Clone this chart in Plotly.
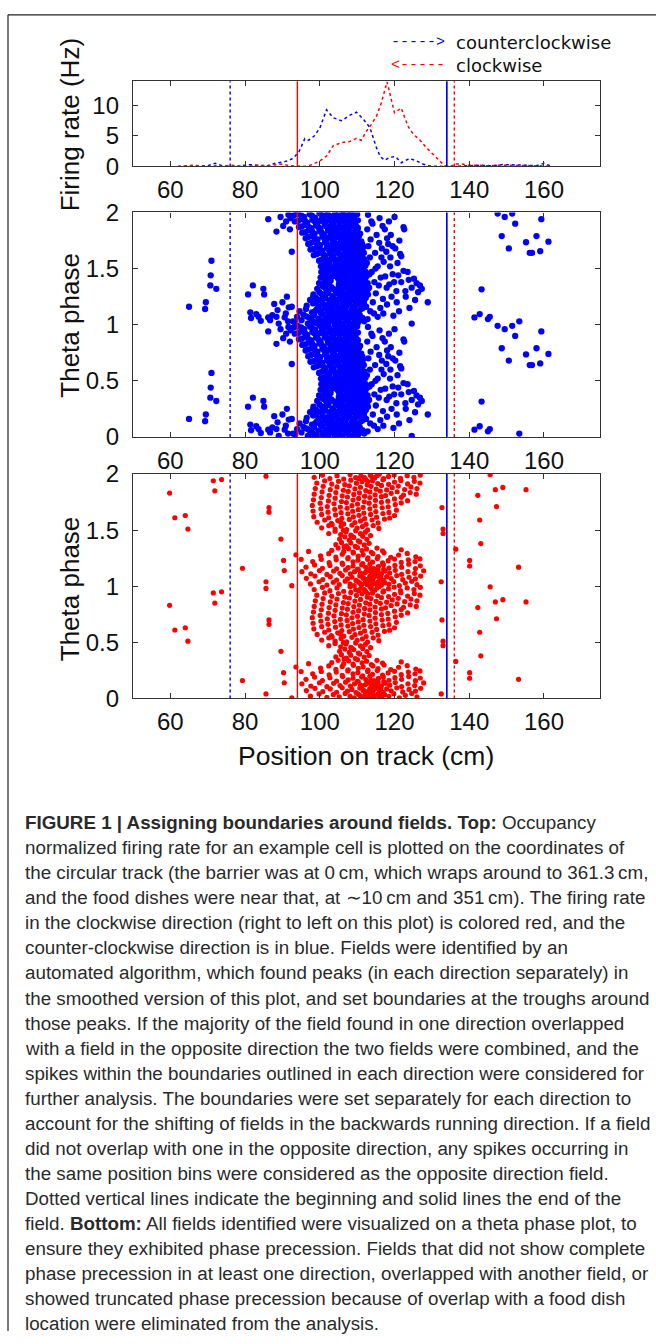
import plotly.graph_objects as go

# ------------------------------------------------------------------ data
ccw_rate_x = [62, 65, 68, 70, 72, 74, 76, 78, 80, 82, 84, 86, 88, 90, 91.5, 93, 94.5, 96, 97, 98.5,
              100, 101.8, 103.6, 105.8, 108, 109.8, 111.6, 113.4, 115.2, 116.2, 117.4, 118.7, 120.3,
              121.8, 124, 125.9, 127.6, 129.4, 131, 133, 135, 137, 140, 143, 146, 149, 152, 155, 158,
              160, 162]
ccw_rate_hz = [0, 0, 0, 0.1, 0.5, 0.1, 0, 0, 0.2, 0.3, 0.1, 0.1, 0.5, 0.7, 0.9, 1.4, 2.5, 4.6, 4.3, 5.0,
               6.3, 9.3, 8.0, 7.5, 8.4, 8.9, 7.8, 6.4, 3.0, 1.6, 1.0, 1.5, 1.6,
               0.6, 1.3, 0.9, 0.4, 0.05, 0, 0, 0, 0, 0.1, 0.2, 0.1, 0.3, 0.3, 0.2, 0.1,
               0.5, 0]
cw_rate_x = [62, 64, 66, 68, 70, 72, 74, 76, 78, 80, 82, 84, 86, 88, 90, 92, 94, 96, 98, 100, 101.8,
             103.6, 105.8, 108, 109.8, 111.1, 112.5, 113.8, 115.2, 116.5, 118, 119.2, 120, 121.8, 123.6,
             125, 126.7, 128.5, 130.3, 132.1, 133.4, 135, 136.5, 138, 140, 142, 145, 148, 150, 153,
             156, 159, 162]
cw_rate_hz = [0, 0.1, 0.2, 0.1, 0, 0.1, 0, 0.2, 0.1, 0, 0.1, 0.2, 0.1, 0.2, 0.4, 0.1, 0, 0, 0.3, 0.9, 1.7,
              3.4, 3.9, 4.1, 4.6, 4.3, 5.8, 6.9, 8.3, 10.5, 13.9, 11.0, 8.8, 9.6, 6.6,
              5.3, 4.4, 3.1, 2.0, 0.9, 0.1, 0, 0.4, 0.4, 0.2, 0.2, 0.1, 0.2, 0.2, 0.1,
              0.1, 0.1, 0]

ccw_field_start = 76
ccw_field_end = 134
cw_field_start = 136
cw_field_end = 94

x_ticks = [60, 80, 100, 120, 140, 160]
rate_ticks = [0, 5, 10]
phase_ticks = [0, 0.5, 1, 1.5, 2]
phase_tick_labels = ["0", "0.5", "1", "1.5", "2"]

# spikes: (position cm, theta phase in cycles) for one cycle; each spike is drawn at phase and phase+1
ccw_spikes = [
    (65.0, .16), (69.3, .14), (69.5, .20), (70.7, .35), (70.8, .44), (71.0, .57), (72.3, .32),
    (80.8, .27), (82.1, .35), (84.9, .32), (85.1, .27), (81.4, .11), (81.6, .06), (83.0, .095),
    (83.6, .07), (84.2, .035), (86.2, .065), (86.7, .04), (87.3, .085), (88.4, .07), (88.7, .13),
    (87.8, .185), (86.2, .94), (88.4, .83), (90.6, .065), (90.9, .10), (91.7, .155), (92.5, .16),
    (91.5, .03), (92.8, .03), (91.6, .98), (92.2, .95), (92.5, .65), (90.2, .88), (91.0, .92),
    (89.5, .96), (90.0, .20), (91.2, .25), (92.0, .85), (89.0, .01),
    (93.4, .02), (95.1, .04), (96.8, .01), (98.0, .035), (99.2, .012), (100.1, .045), (101.0, .02),
    (102.3, .005), (103.1, .038), (104.0, .015), (105.2, .03), (106.1, .008), (106.9, .042),
    (107.8, .022), (108.6, .003), (109.4, .034), (110.2, .018), (101.7, .03), (104.6, .045), (97.5, .005),
    (93.9, .07), (95.6, .09), (97.2, .06), (98.5, .085), (99.6, .055), (100.7, .095), (101.6, .068),
    (102.7, .08), (103.5, .052), (104.4, .09), (105.6, .065), (106.5, .098), (107.3, .058), (108.2, .078),
    (109.0, .092), (109.9, .062), (110.7, .085), (103.0, .10), (106.0, .075),
    (94.6, .12), (96.3, .14), (97.9, .11), (99.1, .135), (100.3, .105), (101.2, .145), (102.1, .118),
    (103.3, .13), (104.2, .102), (105.0, .14), (105.9, .115), (106.8, .148), (107.7, .108), (108.5, .128),
    (109.3, .142), (110.1, .112), (110.9, .135), (104.8, .125),
    (96.5, .17), (98.2, .19), (99.6, .16), (100.8, .185), (101.8, .155), (102.8, .195), (103.7, .168),
    (104.6, .182), (105.5, .152), (106.3, .19), (107.2, .165), (108.0, .198), (108.9, .158), (109.7, .178),
    (110.5, .192), (111.3, .162), (102.2, .175), (106.8, .178),
    (97.4, .22), (99.0, .24), (100.5, .21), (101.6, .235), (102.6, .205), (103.6, .245), (104.5, .218),
    (105.4, .232), (106.2, .202), (107.1, .24), (107.9, .215), (108.7, .248), (109.5, .208), (110.3, .228),
    (111.1, .242), (111.8, .212), (105.0, .225),
    (98.3, .27), (99.9, .29), (101.2, .26), (102.3, .285), (103.4, .255), (104.3, .295), (105.2, .268),
    (106.0, .282), (106.8, .252), (107.6, .29), (108.4, .265), (109.2, .298), (110.0, .258), (110.8, .278),
    (111.6, .292), (112.2, .262),
    (99.3, .32), (100.8, .34), (102.0, .31), (103.1, .335), (104.2, .305), (105.1, .345), (106.0, .318),
    (106.9, .332), (107.7, .302), (108.5, .34), (109.3, .315), (110.1, .348), (110.9, .308), (111.7, .328),
    (112.4, .342),
    (99.8, .37), (101.3, .39), (102.4, .36), (105.6, .385), (106.5, .355), (107.3, .395), (108.1, .368),
    (108.9, .382), (109.7, .352), (110.5, .39), (111.3, .365), (112.1, .398), (102.9, .392), (106.9, .372),
    (110.0, .375),
    (100.2, .42), (101.6, .44), (102.8, .41), (103.9, .435), (105.0, .405), (106.0, .445), (106.9, .418),
    (107.7, .432), (108.5, .402), (109.3, .44), (110.1, .415), (110.9, .448), (111.7, .408), (112.4, .428),
    (104.6, .425),
    (100.4, .47), (101.9, .49), (103.1, .46), (104.2, .485), (105.3, .455), (106.2, .495), (107.1, .468),
    (107.9, .482), (108.7, .452), (109.5, .49), (110.3, .465), (111.1, .498), (111.8, .458), (106.6, .475),
    (109.0, .472),
    (100.3, .52), (101.8, .54), (103.0, .51), (104.1, .535), (105.2, .505), (106.1, .545), (107.0, .518),
    (107.8, .532), (108.6, .502), (109.4, .54), (110.2, .515), (111.0, .548), (111.7, .508), (105.6, .528),
    (109.0, .525),
    (99.8, .57), (101.3, .59), (102.6, .56), (103.7, .585), (104.8, .555), (105.8, .595), (106.7, .568),
    (107.5, .582), (108.3, .552), (109.1, .59), (109.9, .565), (110.7, .598), (111.5, .558), (104.2, .575),
    (108.7, .572),
    (98.4, .62), (100.0, .64), (101.4, .61), (102.6, .635), (103.7, .605), (104.7, .645), (105.6, .618),
    (106.5, .632), (107.3, .602), (108.1, .64), (108.9, .615), (109.7, .648), (110.5, .608), (111.3, .628),
    (106.9, .625),
    (97.5, .67), (99.2, .69), (100.7, .66), (101.9, .685), (103.0, .655), (104.0, .695), (105.0, .668),
    (105.9, .682), (106.8, .652), (107.6, .69), (108.4, .665), (109.2, .698), (110.0, .658), (110.8, .678),
    (111.6, .692), (103.5, .675),
    (96.9, .72), (98.6, .74), (100.1, .71), (101.4, .735), (102.5, .705), (103.5, .745), (104.5, .718),
    (105.4, .732), (106.3, .702), (107.1, .74), (107.9, .715), (108.7, .748), (109.5, .708), (110.3, .728),
    (111.1, .742), (104.0, .728),
    (96.2, .77), (97.9, .79), (99.4, .76), (100.7, .785), (101.8, .755), (102.9, .795), (103.9, .768),
    (104.8, .782), (105.7, .752), (106.5, .79), (107.3, .765), (108.1, .798), (108.9, .758), (109.7, .778),
    (110.5, .792), (102.3, .775),
    (95.3, .82), (97.0, .84), (98.6, .81), (99.9, .835), (101.1, .805), (102.2, .845), (103.2, .818),
    (104.2, .832), (105.1, .802), (106.0, .84), (106.8, .815), (107.6, .848), (108.4, .808), (109.2, .828),
    (110.0, .842), (110.8, .812), (103.7, .826),
    (94.4, .87), (96.1, .89), (97.7, .86), (99.0, .885), (100.2, .855), (101.3, .895), (102.4, .868),
    (103.4, .882), (104.4, .852), (105.3, .89), (106.2, .865), (107.0, .898), (107.8, .858), (108.6, .878),
    (109.4, .892), (110.2, .862), (101.8, .876),
    (93.3, .92), (95.0, .94), (96.6, .91), (98.0, .935), (99.3, .905), (100.5, .945), (101.6, .918),
    (102.6, .932), (103.6, .902), (104.5, .94), (105.4, .915), (106.3, .948), (107.1, .908), (107.9, .928),
    (108.7, .942), (109.5, .912), (100.0, .925), (104.0, .925),
    (92.4, .97), (94.1, .99), (95.8, .96), (97.3, .985), (98.7, .955), (99.9, .995), (101.0, .968),
    (102.1, .982), (103.1, .952), (104.1, .99), (105.0, .965), (105.9, .998), (106.8, .958), (107.6, .978),
    (108.4, .992), (109.2, .962), (110.0, .985), (101.6, .975),
    (104.9, .011), (107.4, .031), (109.8, .047), (111.0, .04), (100.6, .025), (98.6, .02),
    (102.2, .058), (105.0, .082), (108.6, .067), (110.3, .098), (111.4, .06), (96.4, .075),
    (100.0, .125), (102.7, .138), (106.3, .107), (108.9, .118), (111.5, .148), (98.7, .118),
    (101.3, .172), (104.1, .193), (107.6, .183), (109.3, .166), (111.8, .185), (99.0, .198),
    (100.0, .222), (103.1, .227), (106.6, .235), (109.1, .223), (112.3, .238), (98.2, .246),
    (101.7, .278), (104.8, .282), (107.2, .272), (109.6, .284), (112.6, .28), (100.5, .273),
    (101.6, .322), (103.6, .318), (105.5, .33), (108.1, .325), (110.5, .335), (112.8, .315),
    (100.6, .36), (101.8, .378), (105.1, .362), (107.7, .388), (109.3, .365), (111.7, .382), (112.8, .37),
    (101.0, .43), (102.2, .425), (105.5, .43), (107.3, .41), (109.7, .427), (111.3, .435), (112.8, .445),
    (101.2, .48), (102.5, .475), (104.7, .47), (107.5, .46), (108.3, .492), (110.7, .478), (112.3, .47),
    (101.0, .53), (102.4, .525), (104.6, .52), (106.5, .51), (108.2, .538), (110.6, .53), (112.2, .525),
    (100.5, .58), (102.0, .578), (103.2, .598), (105.3, .582), (107.1, .555), (109.5, .577), (111.9, .585),
    (99.2, .63), (101.0, .625), (103.2, .63), (105.2, .63), (107.7, .618), (110.1, .625), (111.8, .64),
    (98.3, .675), (100.0, .672), (102.4, .67), (104.5, .68), (107.2, .672), (109.6, .678), (111.4, .665),
    (97.7, .73), (99.3, .725), (101.9, .72), (104.9, .71), (106.7, .725), (109.1, .722), (111.4, .715),
    (96.9, .78), (98.6, .772), (101.2, .77), (103.4, .785), (106.0, .772), (107.7, .782), (110.1, .765),
    (96.1, .825), (98.0, .83), (100.5, .82), (102.7, .83), (105.6, .82), (107.2, .83), (109.7, .81),
    (95.2, .875), (97.0, .872), (99.6, .87), (102.9, .875), (104.9, .87), (107.4, .88), (109.8, .875),
    (94.2, .925), (96.0, .928), (98.6, .922), (101.1, .93), (103.1, .918), (105.8, .928), (108.3, .92),
    (110.2, .93), (93.2, .978), (95.0, .975), (97.9, .972), (100.4, .98), (102.6, .97), (104.6, .975),
    (106.4, .985), (108.8, .975),
    (112.8, .05), (113.5, .12), (114.2, .20), (115.0, .28), (113.2, .33), (114.6, .38), (116.3, .42),
    (113.9, .47), (115.5, .52), (117.1, .56), (113.4, .60), (114.8, .64), (116.6, .68), (118.3, .72),
    (113.6, .76), (115.2, .80), (117.4, .85), (114.1, .90), (116.0, .95), (112.9, .98),
    (118.0, .18), (119.2, .25), (120.5, .30), (118.6, .36), (121.8, .38), (119.5, .45), (122.4, .48),
    (120.8, .55), (118.9, .60), (121.5, .63), (123.5, .47), (125.2, .41), (126.3, .29), (124.6, .33),
    (126.8, .35), (125.5, .22), (127.3, .32), (128.9, .20), (124.6, .01), (122.6, .85), (122.4, .87),
    (119.0, .80), (118.0, .77), (120.2, .68), (121.8, .61), (117.0, .10), (116.2, .15), (123.0, .25),
    (124.0, .15), (119.7, .08), (121.2, .12), (118.5, .92), (120.0, .96), (117.9, .33), (116.9, .23),
    (115.5, .07),
    (111.9, .03), (112.4, .16), (112.9, .27), (113.3, .45), (112.6, .55), (113.0, .70), (112.7, .85),
    (113.8, .92), (114.5, .10), (115.8, .35), (116.5, .60), (115.9, .73), (114.9, .50), (117.5, .43),
    (118.8, .52), (119.9, .38), (121.0, .44), (122.9, .30), (120.6, .20), (117.8, .65), (119.5, .70),
    (116.8, .88), (121.3, .75), (123.8, .40), (125.9, .37),
    (141.4, .065), (142.8, .095), (143.3, .315), (145.0, .05), (145.5, .07), (147.6, .99), (148.7, .79),
    (149.5, .96), (150.6, .68), (151.5, .99), (152.3, .90), (153.4, .03), (155.2, .735), (156.2, .64),
    (156.8, .64), (158.0, .79), (159.0, .655), (159.3, .94), (161.2, .74),
]

cw_spikes = [
    (59.8, .83), (61.2, .61), (64.0, .63), (64.7, .51), (71.5, .94), (71.9, .85), (73.7, .95),
    (79.3, .16), (85.6, .04), (85.6, .98), (86.4, .70), (86.4, .66), (89.6, .42), (90.3, .23),
    (90.5, .14), (92.5, .005), (93.6, .28), (95.0, .24), (132.7, .70), (133.0, .51), (133.0, .47),
    (132.5, .04), (136.4, .33), (140.1, .23), (140.1, .18), (142.3, .81), (142.8, .59), (143.1, .38),
    (145.6, .995), (147.0, .86), (147.3, .71), (149.0, .88), (153.2, .17), (155.2, .86),
    (97.5, .02), (99.8, .04), (101.9, .01), (103.6, .035), (105.2, .015), (106.8, .045), (108.1, .02),
    (109.2, .005), (110.3, .038), (111.2, .012), (112.1, .03), (113.0, .045), (113.8, .008), (114.7, .025),
    (115.6, .04), (116.5, .01), (117.4, .032), (118.5, .018), (119.8, .042), (121.3, .006), (122.9, .028),
    (124.6, .044), (126.0, .014),
    (96.4, .07), (98.7, .09), (100.8, .06), (102.8, .085), (104.5, .055), (106.0, .095), (107.4, .065),
    (108.6, .08), (109.7, .052), (110.7, .092), (111.6, .07), (112.5, .058), (113.4, .088), (114.2, .062),
    (115.1, .098), (116.0, .075), (116.9, .055), (117.9, .085), (119.1, .068), (120.6, .095), (122.2, .058),
    (123.9, .08), (125.6, .066), (127.0, .09),
    (95.2, .13), (97.6, .11), (99.9, .14), (101.9, .105), (103.7, .135), (105.4, .115), (106.9, .145),
    (108.2, .11), (109.3, .13), (110.3, .148), (111.2, .102), (112.1, .122), (113.0, .14), (113.8, .108),
    (114.7, .128), (115.6, .145), (116.5, .112), (117.5, .135), (118.7, .118), (120.2, .142), (121.9, .106),
    (123.6, .13), (125.4, .115), (127.8, .138),
    (96.3, .17), (98.6, .19), (100.7, .16), (102.7, .185), (104.5, .155), (106.1, .195), (107.6, .165),
    (108.9, .18), (110.1, .152), (111.2, .19), (112.3, .168), (113.4, .198), (114.5, .158), (115.7, .178),
    (117.0, .192), (118.5, .162), (120.1, .185), (121.9, .17), (123.8, .196), (125.6, .158), (126.9, .182),
    (98.1, .22), (100.4, .24), (102.5, .21), (104.4, .235), (106.0, .205), (107.5, .245), (108.9, .218),
    (110.2, .232), (111.5, .202), (112.8, .24), (114.1, .215), (115.4, .248), (116.8, .208), (118.3, .228),
    (120.0, .242), (121.8, .212), (123.7, .235), (125.5, .22), (126.8, .245),
    (100.2, .27), (102.4, .29), (104.3, .26), (106.0, .285), (107.6, .255), (109.0, .295), (110.3, .268),
    (111.6, .282), (112.9, .252), (114.2, .29), (115.6, .265), (117.2, .298), (119.0, .258), (121.1, .278),
    (123.4, .292), (125.7, .262),
    (103.2, .32), (104.9, .34), (106.4, .31), (107.7, .335), (108.9, .305), (110.1, .345), (111.3, .318),
    (112.5, .332), (113.8, .302), (115.3, .34), (116.8, .315), (121.8, .325), (97.0, .31),
    (104.3, .37), (105.8, .39), (107.1, .36), (108.3, .385), (109.5, .355), (110.7, .395), (111.9, .368),
    (113.2, .382), (106.5, .352),
    (105.3, .42), (106.7, .44), (107.9, .41), (109.1, .435), (110.3, .405), (111.5, .445), (112.6, .418),
    (108.5, .448),
    (102.4, .47), (104.1, .49), (105.6, .46), (107.0, .485), (108.3, .455), (109.6, .495), (110.9, .468),
    (112.2, .482), (113.6, .452), (106.3, .498),
    (100.5, .52), (102.4, .54), (104.1, .51), (105.7, .535), (107.2, .505), (108.6, .545), (110.0, .518),
    (111.4, .532), (112.8, .502), (114.3, .54), (115.8, .515), (103.3, .548),
    (99.3, .57), (101.3, .59), (103.1, .56), (104.8, .585), (106.4, .555), (107.9, .595), (109.4, .568),
    (110.9, .582), (112.4, .552), (114.0, .59), (115.6, .565), (117.3, .598), (105.5, .575),
    (98.4, .62), (100.5, .64), (102.4, .61), (104.2, .635), (105.9, .605), (107.5, .645), (109.0, .618),
    (110.5, .632), (112.0, .602), (113.6, .64), (115.2, .615), (116.9, .648), (118.7, .608), (120.0, .63),
    (98.2, .67), (100.3, .69), (102.2, .66), (104.0, .685), (105.7, .655), (107.3, .695), (108.8, .668),
    (110.3, .682), (111.8, .652), (113.4, .69), (115.0, .665), (116.7, .698), (118.5, .658), (120.5, .678),
    (98.0, .72), (100.1, .74), (102.0, .71), (103.8, .735), (105.5, .705), (107.1, .745), (108.6, .718),
    (110.1, .732), (111.6, .702), (113.2, .74), (114.8, .715), (116.5, .748), (118.3, .708), (120.2, .728),
    (121.8, .742),
    (98.3, .77), (100.4, .79), (102.3, .76), (104.1, .785), (105.8, .755), (107.4, .795), (108.9, .768),
    (110.4, .782), (111.9, .752), (113.4, .79), (114.9, .765), (116.5, .798), (118.2, .758), (120.0, .778),
    (121.8, .792), (123.5, .762),
    (98.5, .82), (100.6, .84), (102.5, .81), (104.3, .835), (106.0, .805), (107.6, .845), (109.1, .818),
    (110.6, .832), (112.0, .802), (113.4, .84), (114.8, .815), (116.2, .848), (117.6, .808), (119.1, .828),
    (120.7, .842), (122.4, .812), (124.2, .835), (125.8, .82),
    (98.8, .87), (100.9, .89), (102.8, .86), (104.6, .885), (106.3, .855), (107.9, .895), (109.4, .868),
    (110.9, .882), (112.3, .852), (113.7, .89), (115.1, .865), (116.5, .898), (117.9, .858), (119.4, .878),
    (121.0, .892), (122.7, .862), (124.4, .885), (126.0, .87),
    (99.2, .92), (101.3, .94), (103.2, .91), (105.0, .935), (106.7, .905), (108.3, .945), (109.8, .918),
    (111.3, .932), (112.7, .902), (114.1, .94), (115.5, .915), (116.9, .948), (118.4, .908), (120.0, .928),
    (121.7, .942), (123.5, .912), (125.3, .935), (126.8, .92),
    (98.5, .97), (100.7, .99), (102.7, .96), (104.6, .985), (106.4, .955), (108.1, .995), (109.6, .968),
    (111.0, .982), (112.3, .952), (113.5, .99), (114.7, .965), (115.9, .998), (117.1, .958), (118.4, .978),
    (119.9, .992), (121.6, .962), (123.4, .985), (125.2, .97), (126.9, .99),
    (110.8, .025), (112.6, .015), (114.2, .04), (115.9, .022), (117.0, .048), (111.7, .075), (113.1, .065),
    (114.6, .082), (116.3, .09), (110.9, .118), (112.6, .135), (114.1, .128), (115.2, .11), (117.1, .15),
    (113.6, .162), (111.9, .97), (113.9, .975), (115.3, .985), (112.8, .935), (110.4, .96),
]

caption_lines = [
    "<b>FIGURE 1 | Assigning boundaries around fields. Top:</b> Occupancy",
    "normalized firing rate for an example cell is plotted on the coordinates of",
    "the circular track (the barrier was at 0\u2009cm, which wraps around to 361.3\u2009cm,",
    "and the food dishes were near that, at \u223c10\u2009cm and 351\u2009cm). The firing rate",
    "in the clockwise direction (right to left on this plot) is colored red, and the",
    "counter-clockwise direction is in blue. Fields were identified by an",
    "automated algorithm, which found peaks (in each direction separately) in",
    "the smoothed version of this plot, and set boundaries at the troughs around",
    "those peaks. If the majority of the field found in one direction overlapped",
    "with a field in the opposite direction the two fields were combined, and the",
    "spikes within the boundaries outlined in each direction were considered for",
    "further analysis. The boundaries were set separately for each direction to",
    "account for the shifting of fields in the backwards running direction. If a field",
    "did not overlap with one in the opposite direction, any spikes occurring in",
    "the same position bins were considered as the opposite direction field.",
    "Dotted vertical lines indicate the beginning and solid lines the end of the",
    "field. <b>Bottom:</b> All fields identified were visualized on a theta phase plot, to",
    "ensure they exhibited phase precession. Fields that did not show complete",
    "phase precession in at least one direction, overlapped with another field, or",
    "showed truncated phase precession because of overlap with a food dish",
    "location were eliminated from the analysis.",
]

# ------------------------------------------------------------------ layout helpers
W, H = 656, 1344
# the captured picture shows page row y at about 14.9 + 0.978*y; place items so they land on target rows
def px(sx):
    return sx / W
def py(sy):
    return 1 - ((sy - 14.9) / 0.978) / H

PLOT_L, PLOT_R = 133, 600
panels = [(82, 167), (213, 437), (474, 698)]

BLUE = "#0000ff"
RED = "#ff0000"
FONT = "Liberation Sans, Arial, Helvetica, sans-serif"

def doubled(spikes):
    xs = [s[0] for s in spikes]
    ps = [s[1] for s in spikes]
    return xs + xs, ps + [p + 1 for p in ps]

fig = go.Figure()
fig.add_trace(go.Scatter(x=ccw_rate_x, y=ccw_rate_hz, mode="lines", xaxis="x", yaxis="y",
                         line=dict(color=BLUE, width=1.5, dash="dot"), showlegend=False))
fig.add_trace(go.Scatter(x=cw_rate_x, y=cw_rate_hz, mode="lines", xaxis="x", yaxis="y",
                         line=dict(color=RED, width=1.5, dash="dot"), showlegend=False))
bx, bp = doubled(ccw_spikes)
fig.add_trace(go.Scatter(x=bx, y=bp, mode="markers", xaxis="x2", yaxis="y2",
                         marker=dict(color=BLUE, size=6.3, line=dict(width=0)), showlegend=False))
rx, rp = doubled(cw_spikes)
fig.add_trace(go.Scatter(x=rx, y=rp, mode="markers", xaxis="x3", yaxis="y3",
                         marker=dict(color=RED, size=5.2, line=dict(width=0)), showlegend=False))

axis_common = dict(showline=True, linecolor="#333333", linewidth=1.4, mirror="ticks",
                   ticks="inside", ticklen=5, tickwidth=1.2, tickcolor="#333333",
                   showgrid=False, zeroline=False,
                   tickfont=dict(family=FONT, size=24, color="#111111"))
layout = dict(width=W, height=H, autosize=False, margin=dict(l=0, r=0, t=0, b=0),
              paper_bgcolor="white", plot_bgcolor="white", showlegend=False)
for i, (top, bot) in enumerate(panels):
    sfx = "" if i == 0 else str(i + 1)
    layout["xaxis" + sfx] = dict(axis_common, domain=[px(PLOT_L), px(PLOT_R)], range=[50, 175],
                                 tickvals=x_ticks, anchor="y" + sfx, ticklabelstandoff=2)
    if i == 0:
        layout["yaxis" + sfx] = dict(axis_common, domain=[py(bot), py(top)], range=[0, 14],
                                     tickvals=rate_ticks, anchor="x" + sfx, ticklabelstandoff=8)
    else:
        layout["yaxis" + sfx] = dict(axis_common, domain=[py(bot), py(top)], range=[0, 2],
                                     tickvals=phase_ticks, ticktext=phase_tick_labels,
                                     anchor="x" + sfx, ticklabelstandoff=8)
fig.update_layout(**layout)

for i in range(3):
    sfx = "" if i == 0 else str(i + 1)
    for xv, col, dash, wd in [(ccw_field_start, BLUE, "dot", 1.4), (cw_field_end, RED, "solid", 1.4),
                              (ccw_field_end, BLUE, "solid", 1.7), (cw_field_start, RED, "dot", 1.4)]:
        fig.add_shape(type="line", xref="x" + sfx, yref="y" + sfx + " domain",
                      x0=xv, x1=xv, y0=0, y1=1, line=dict(color=col, width=wd, dash=dash))

# frame (left and top edges of the figure box)
TOP_EDGE = 1 - 0.8 / H
fig.add_shape(type="line", xref="paper", yref="paper", x0=px(8), x1=px(8), y0=0, y1=TOP_EDGE,
              line=dict(color="#222222", width=1.2))
fig.add_shape(type="line", xref="paper", yref="paper", x0=px(8), x1=1, y0=TOP_EDGE, y1=TOP_EDGE,
              line=dict(color="#222222", width=1.2))

ann = []
for txt, cy in [("Firing rate (Hz)", 126), ("Theta phase", 326), ("Theta phase", 589)]:
    ann.append(dict(text=txt, x=px(70), y=py(cy), xref="paper", yref="paper", textangle=-90,
                    showarrow=False, xanchor="center", yanchor="middle",
                    font=dict(family=FONT, size=26, color="#111111")))
ann.append(dict(text="Position on track (cm)", x=px(366), y=py(755), xref="paper", yref="paper",
                showarrow=False, xanchor="center", yanchor="middle",
                font=dict(family=FONT, size=26.5, color="#111111")))
for arrow, col, label, cy in [("----->", BLUE, "counterclockwise", 43), ("<-----", RED, "clockwise", 66)]:
    ann.append(dict(text=arrow, x=px(389), y=py(cy), xref="paper", yref="paper", showarrow=False,
                    xanchor="left", yanchor="middle",
                    font=dict(family="Liberation Mono, DejaVu Sans Mono, monospace", size=15, color=col)))
    ann.append(dict(text=label, x=px(454), y=py(cy), xref="paper", yref="paper", showarrow=False,
                    xanchor="left", yanchor="middle",
                    font=dict(family="DejaVu Sans, Verdana, sans-serif", size=18, color="#111111")))
for k, line in enumerate(caption_lines):
    ann.append(dict(text=line, x=px(23), y=py(822 + 25 * k), xref="paper", yref="paper",
                    showarrow=False, xanchor="left", yanchor="middle", align="left",
                    font=dict(family=FONT, size=18.8, color="#2a2a2a")))
fig.update_layout(annotations=ann)

fig.write_html("out.html", config={"displayModeBar": False},
               post_script="document.body.style.margin='0px';document.body.style.padding='0px';"
                           "document.documentElement.style.overflow='hidden';")
